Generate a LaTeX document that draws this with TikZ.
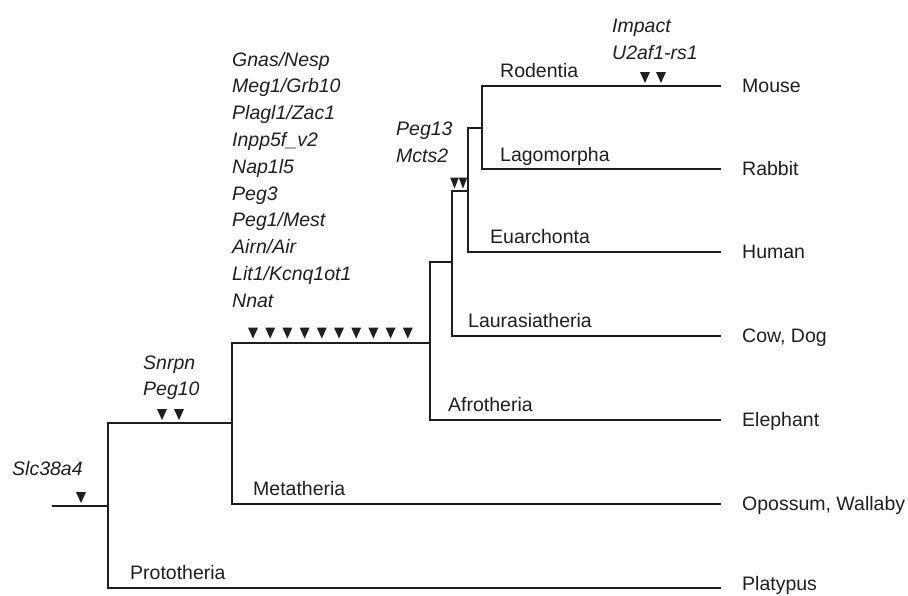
\documentclass[tikz,border=0pt]{standalone}
\usepackage{fontspec}
\setmainfont{Liberation Sans}
\begin{document}
\begin{tikzpicture}[x=1pt,y=-1pt,
  br/.style={draw=black!88, line width=1.3pt, line cap=rect},
  lab/.style={anchor=base west, inner sep=0pt, text=black!88, font=\fontsize{19.5}{26}\selectfont},
  gene/.style={lab, font=\fontsize{19.5}{26}\selectfont\itshape},
  tri/.pic={\fill[black!88] (-5,0) -- (5,0) -- (0,11) -- cycle;},
  tris/.pic={\fill[black!88] (-4.3,0) -- (4.3,0) -- (0,11) -- cycle;}]
\useasboundingbox (0,0) rectangle (908,595);
% coordinates of the tree
\coordinate (rootL) at (53,506);
\coordinate (nMam) at (108,506);
\coordinate (nMamT) at (108,423);
\coordinate (nMamB) at (108,588);
\coordinate (tPla) at (720,588);
\coordinate (nThe) at (232,423);
\coordinate (nTheT) at (232,343);
\coordinate (nTheB) at (232,504);
\coordinate (tOpo) at (720,504);
\coordinate (nEu) at (430,343);
\coordinate (nEuT) at (430,262);
\coordinate (nEuB) at (430,420);
\coordinate (tEle) at (720,420);
\coordinate (nBo) at (452,262);
\coordinate (nBoT) at (452,191);
\coordinate (nBoB) at (452,336);
\coordinate (tCow) at (720,336);
\coordinate (nEa) at (468,191);
\coordinate (nEaT) at (468,128);
\coordinate (nEaB) at (468,252);
\coordinate (tHum) at (720,252);
\coordinate (nGl) at (482,128);
\coordinate (nGlT) at (482,86);
\coordinate (nGlB) at (482,169);
\coordinate (tMou) at (720,86);
\coordinate (tRab) at (720,169);
% branches
\draw[br] (rootL) -- (nMam);
\draw[br] (nMamT) -- (nMamB) -- (tPla);
\draw[br] (nMamT) -- (nThe);
\draw[br] (nTheT) -- (nTheB) -- (tOpo);
\draw[br] (nTheT) -- (nEu);
\draw[br] (nEuT) -- (nEuB) -- (tEle);
\draw[br] (nEuT) -- (nBo);
\draw[br] (nBoT) -- (nBoB) -- (tCow);
\draw[br] (nBoT) -- (nEa);
\draw[br] (nEaT) -- (nEaB) -- (tHum);
\draw[br] (nEaT) -- (nGl);
\draw[br] (nGlT) -- (nGlB) -- (tRab);
\draw[br] (nGlT) -- (tMou);
% triangles
\pic at (81,492) {tri};
\pic at (162,409) {tri};
\pic at (179,409) {tri};
\foreach \i in {0,...,9} \pic at ({253+17.2*\i},327.5) {tri};
\pic at (454.5,177.5) {tris};
\pic at (463,177.5) {tris};
\pic at (645,72) {tri};
\pic at (661,72) {tri};
% gene labels
\node[gene] (slc) at (12,475) {Slc38a4};
\node[gene] (snrpn) at (143,369) {Snrpn};
\node[gene] (peg10) at (143,395) {Peg10};
\node[gene] (g1) at (232,66) {Gnas/Nesp};
\node[gene] (g2) at (232,92.8) {Meg1/Grb10};
\node[gene] (g3) at (232,119.6) {Plagl1/Zac1};
\node[gene] (g4) at (232,146.4) {Inpp5f\_v2};
\node[gene] (g5) at (232,173.2) {Nap1l5};
\node[gene] (g6) at (232,200) {Peg3};
\node[gene] (g7) at (232,226.8) {Peg1/Mest};
\node[gene] (g8) at (232,253.6) {Airn/Air};
\node[gene] (g9) at (232,280.4) {Lit1/Kcnq1ot1};
\node[gene] (g10) at (232,307.2) {Nnat};
\node[gene] (peg13) at (396,135) {Peg13};
\node[gene] (mcts2) at (396,162) {Mcts2};
\node[gene] (impact) at (612,32) {Impact};
\node[gene] (u2af) at (612,59) {U2af1-rs1};
% clade labels
\node[lab] (rod) at (500,77) {Rodentia};
\node[lab] (lag) at (500,161) {Lagomorpha};
\node[lab] (eua) at (490,243) {Euarchonta};
\node[lab] (lau) at (468,327) {Laurasiatheria};
\node[lab] (afr) at (448,411) {Afrotheria};
\node[lab] (met) at (253,495) {Metatheria};
\node[lab] (pro) at (130,579) {Prototheria};
% species labels
\node[lab] (mou) at (742,92) {Mouse};
\node[lab] (rab) at (742,175) {Rabbit};
\node[lab] (hum) at (742,258) {Human};
\node[lab] (cow) at (742,342) {Cow, Dog};
\node[lab] (ele) at (742,426) {Elephant};
\node[lab] (opo) at (742,510) {Opossum, Wallaby};
\node[lab] (pla) at (742,590.5) {Platypus};
\end{tikzpicture}
\end{document}
